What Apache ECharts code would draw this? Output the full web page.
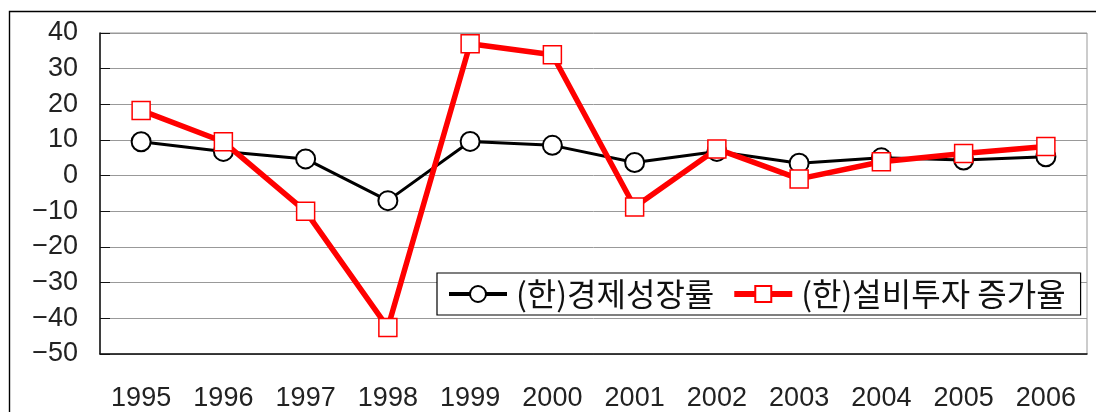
<!DOCTYPE html>
<html>
<head>
<meta charset="utf-8">
<script src="https://cdn.jsdelivr.net/npm/echarts@6/dist/echarts.min.js"></script>
<style>
html,body{margin:0;padding:0;background:#fff;}
#chart{width:1096px;height:412px;}
</style>
</head>
<body>
<div id="chart"></div>
<script>
var years = ['1995','1996','1997','1998','1999','2000','2001','2002','2003','2004','2005','2006'];
var gdpGrowth = [9.5, 6.8, 4.7, -7.0, 9.6, 8.5, 3.7, 6.8, 3.5, 5.0, 4.4, 5.3];
var investGrowth = [18.3, 9.5, -10.0, -42.6, 37.0, 33.9, -8.8, 7.5, -0.9, 3.9, 6.2, 8.2];
var seriesNames = ['(한)경제성장률', '(한)설비투자 증가율'];
var yMin = -50, yMax = 40, yStep = 10;

var chart = echarts.init(document.getElementById('chart'), null, {renderer:'canvas'});
var numFont = '"Liberation Sans", Arial, sans-serif';
chart.setOption({
  animation: false,
  backgroundColor: '#fff',
  graphic: [{
    type: 'rect',
    shape: {x: 9.5, y: 11.5, width: 1200, height: 600},
    style: {fill: 'none', stroke: '#000', lineWidth: 1.4},
    z: -10, silent: true
  }],
  grid: {
    left: 100, right: 9, top: 33, bottom: 57,
    show: true, borderColor: '#999', borderWidth: 1, backgroundColor: 'transparent'
  },
  legend: {
    left: 437, top: 273,
    orient: 'horizontal',
    padding: [5, 15, 5, 10],
    itemGap: 17,
    itemWidth: 58, itemHeight: 20,
    backgroundColor: '#fff',
    borderColor: '#000', borderWidth: 1.2,
    textStyle: {fontFamily: '"Noto Sans CJK KR", sans-serif', fontSize: 32, color: '#111', padding: [0, 0, 0, 4]},
    data: [
      {name: seriesNames[0], lineStyle: {width: 4, color: '#000'}},
      {name: seriesNames[1], lineStyle: {width: 6, color: '#ff0000'}}
    ]
  },
  xAxis: {
    type: 'category',
    data: years,
    boundaryGap: true,
    axisLine: {onZero: false, lineStyle: {color: '#111', width: 1.5}},
    axisTick: {inside: true, length: 8, alignWithLabel: false, lineStyle: {color: '#111', width: 1}},
    axisLabel: {margin: 31, fontFamily: numFont, fontSize: 27, color: '#222'},
    splitLine: {show: false}
  },
  yAxis: {
    type: 'value',
    min: yMin, max: yMax, interval: yStep,
    axisLine: {show: true, lineStyle: {color: '#111', width: 1.5}},
    axisTick: {show: true, inside: true, length: 10, lineStyle: {color: '#111', width: 1}},
    axisLabel: {
      margin: 22, fontFamily: numFont, fontSize: 27, color: '#222', padding: [6, 0, 0, 0],
      formatter: function (v) { return v < 0 ? '\u2212' + Math.abs(v) : String(v); }
    },
    splitLine: {show: true, lineStyle: {color: '#999', width: 1}}
  },
  series: [{
    name: seriesNames[0],
    type: 'line',
    data: gdpGrowth,
    z: 2,
    symbol: 'circle', symbolSize: 19,
    lineStyle: {color: '#000', width: 3},
    itemStyle: {color: '#fff', borderColor: '#000', borderWidth: 2}
  }, {
    name: seriesNames[1],
    type: 'line',
    data: investGrowth,
    z: 3,
    symbol: 'rect', symbolSize: 18,
    lineStyle: {color: '#ff0000', width: 5.5},
    itemStyle: {color: '#fff', borderColor: '#ff0000', borderWidth: 1.5}
  }]
});
</script>
</body>
</html>
